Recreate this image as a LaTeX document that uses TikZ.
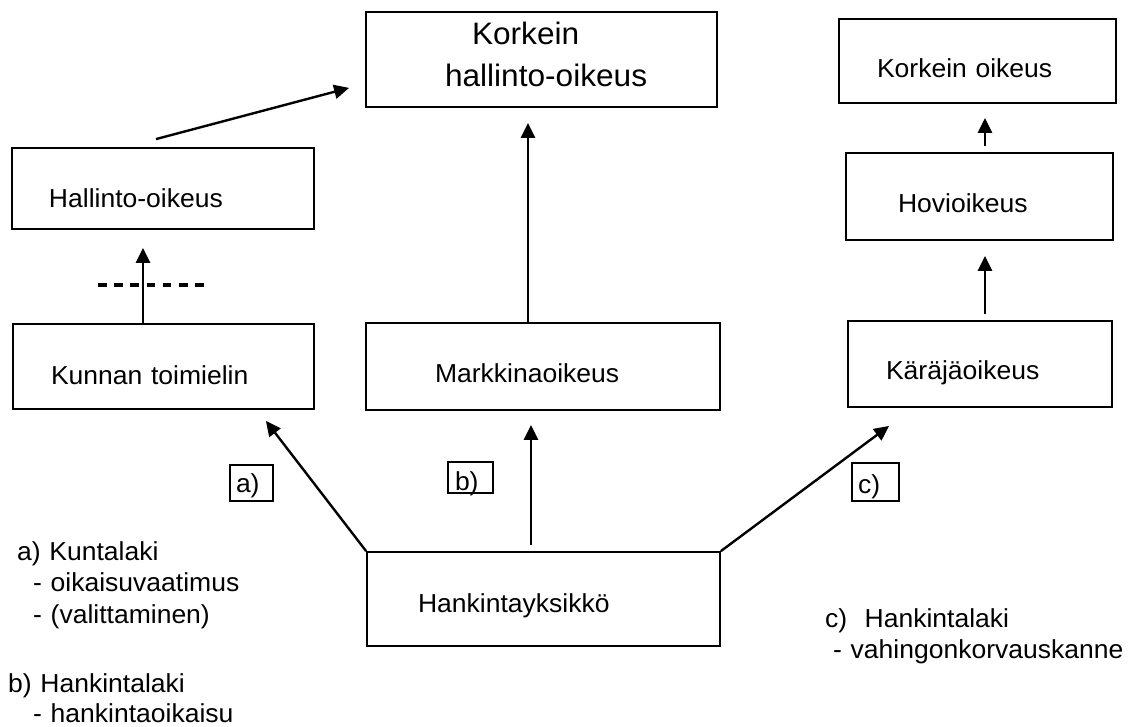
\documentclass[tikz,border=0pt]{standalone}
\usepackage{fontspec}
\setmainfont{Liberation Sans}[FakeStretch=1.02]
\usetikzlibrary{arrows.meta}
\tikzset{
  court/.style={draw, line width=1.8pt, inner sep=0pt, align=left,
    font=\fontsize{26}{31.5}\selectfont, text depth=0pt},
  tagbox/.style={draw, line width=1.4pt, inner sep=0pt, align=left,
    font=\fontsize{26}{31.5}\selectfont, text depth=0pt},
  note/.style={inner sep=0pt, anchor=base west, align=left,
    font=\fontsize{26}{31.5}\selectfont},
  link/.style={line width=2.4pt, -{Triangle[length=15pt,width=14pt]}},
}
\begin{document}
\begin{tikzpicture}[x=1pt,y=-1pt]
\useasboundingbox (0,0) rectangle (1128,727);

% courts
\node[court, text width=351pt, minimum height=95pt, text height=0pt, text depth=29pt,
      font=\fontsize{31}{42}\selectfont] (kho) at (541.5,59.5)
  {\hspace*{106pt}Korkein\\\hspace*{79pt}hallinto-oikeus};
\node[court, text width=277pt, minimum height=84pt, text height=34pt] (ko) at (977.5,61)
  {\hspace*{38pt}Korkein oikeus};
\node[court, text width=267pt, minimum height=87pt, text height=33pt] (hovi) at (979.5,196.5)
  {\hspace*{52pt}Hovioikeus};
\node[court, text width=264pt, minimum height=86pt, text height=32pt] (ka) at (980,364)
  {\hspace*{38pt}Käräjäoikeus};
\node[court, text width=302pt, minimum height=81pt, text height=39pt] (ho) at (163,188.5)
  {\hspace*{37pt}Hallinto-oikeus};
\node[court, text width=301pt, minimum height=85pt, text height=37pt] (kt) at (163.5,366.5)
  {\hspace*{38pt}Kunnan toimielin};
\node[court, text width=354pt, minimum height=87pt, text height=33pt] (mo) at (543,366.5)
  {\hspace*{69pt}Markkinaoikeus};
\node[court, text width=353pt, minimum height=94pt, text height=26pt] (hk) at (543.5,599)
  {\hspace*{51pt}Hankintayksikkö};

% tags
\node[tagbox, text width=43pt, minimum height=36pt, text height=18pt] (ta) at (251.5,483)
  {\hspace*{6pt}a)};
\node[tagbox, text width=45pt, minimum height=31pt, text height=25pt] (tb) at (470.5,477.5)
  {\hspace*{7pt}b)};
\node[tagbox, text width=47pt, minimum height=38pt, text height=22pt] (tc) at (875.5,482)
  {\hspace*{6pt}c)};

% notes
\node[note, text width=300pt] (na) at (17,560)
  {a) Kuntalaki\\\hspace*{16pt}- oikaisuvaatimus\\\hspace*{16pt}- (valittaminen)};
\node[note, text width=300pt, font=\fontsize{26}{30}\selectfont] (nb) at (8,692)
  {b) Hankintalaki\\\hspace*{25pt}- hankintaoikaisu};
\node[note, text width=300pt] (nc) at (825,627)
  {c)\ \ Hankintalaki\\\hspace*{8pt}- vahingonkorvauskanne};

% connectors
\draw[link] ([shift={(-7,-8)}]ho.north) -- ([shift={(-16,-20)}]kho.south west);
\draw[link] ([shift={(-20.5,0)}]kt.north) -- ([shift={(-20,18)}]ho.south);
\draw[link] ([shift={(-15,0)}]mo.north) -- ([shift={(-13.5,15)}]kho.south);
\draw[link] ([shift={(-12.5,-6)}]hk.north) -- ([shift={(-12,14)}]mo.south);
\draw[link] (hk.north west) -- ([shift={(-49,11)}]kt.south east);
\draw[link] (hk.north east) -- ([shift={(42,18)}]ka.south west);
\draw[link] ([shift={(5.5,-6)}]hovi.north) -- ([shift={(7.5,14)}]ko.south);
\draw[link] ([shift={(5,-6)}]ka.north) -- ([shift={(5.5,15)}]hovi.south);

% dashed barrier
\coordinate (d1) at (98,285);
\coordinate (d2) at (208,285);
\draw[line width=3.5pt, dash pattern=on 8.5pt off 7.7pt] (d1) -- (d2);
\end{tikzpicture}
\end{document}
